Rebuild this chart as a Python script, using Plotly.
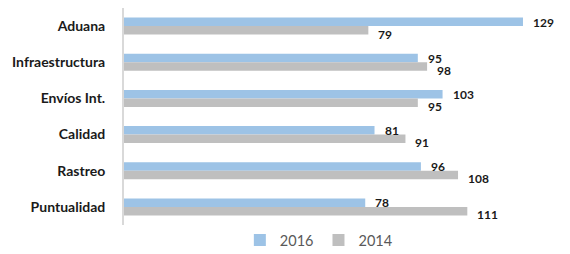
import plotly.graph_objects as go

categories = ["Aduana", "Infraestructura", "Envíos Int.", "Calidad", "Rastreo", "Puntualidad"]
values_2016 = [129, 95, 103, 81, 96, 78]
values_2014 = [79, 98, 95, 91, 108, 111]

blue = "#9DC3E6"
gray = "#BFBFBF"
font = "Lato"

# page body has an 8px margin, so the figure is 8px smaller and shifted
W, H = 562, 246

fig = go.Figure()
fig.add_trace(go.Bar(name="2016", y=categories, x=values_2016, orientation="h",
                     marker=dict(color=blue, line=dict(width=0))))
fig.add_trace(go.Bar(name="2014", y=categories, x=values_2014, orientation="h",
                     marker=dict(color=gray, line=dict(width=0))))

annotations = []
for c, v in zip(categories, values_2016):
    annotations.append(dict(x=v, y=c, text=f"<b>{v}</b>", showarrow=False, xanchor="left",
                            xshift=8, yshift=4, font=dict(family=font, size=12, color="#1a1a1a")))
for c, v in zip(categories, values_2014):
    annotations.append(dict(x=v, y=c, text=f"<b>{v}</b>", showarrow=False, xanchor="left",
                            xshift=8, yshift=-8, font=dict(family=font, size=12, color="#1a1a1a")))

fig.update_layout(
    width=W, height=H,
    margin=dict(l=116, r=13, t=0, b=29, autoexpand=False),
    paper_bgcolor="white", plot_bgcolor="white",
    barmode="group", bargap=0.53, bargroupgap=0,
    showlegend=True,
    legend=dict(orientation="h", x=0.45, xanchor="center", xref="paper",
                y=14 / H, yref="container", yanchor="middle",
                font=dict(family=font, size=14.5, color="#595959"), itemwidth=30,
                traceorder="normal", tracegroupgap=0),
    xaxis=dict(range=[0, 140], visible=False, showgrid=False, zeroline=False),
    yaxis=dict(autorange="reversed", showline=True, linecolor="#D9D9D9", linewidth=2,
               showgrid=False, ticks="", ticklabelstandoff=14, automargin=False,
               tickfont=dict(family=font, size=14, color="#1a1a1a", weight="bold")),
    annotations=annotations,
    font=dict(family=font),
)

fig.write_html("out.html")
